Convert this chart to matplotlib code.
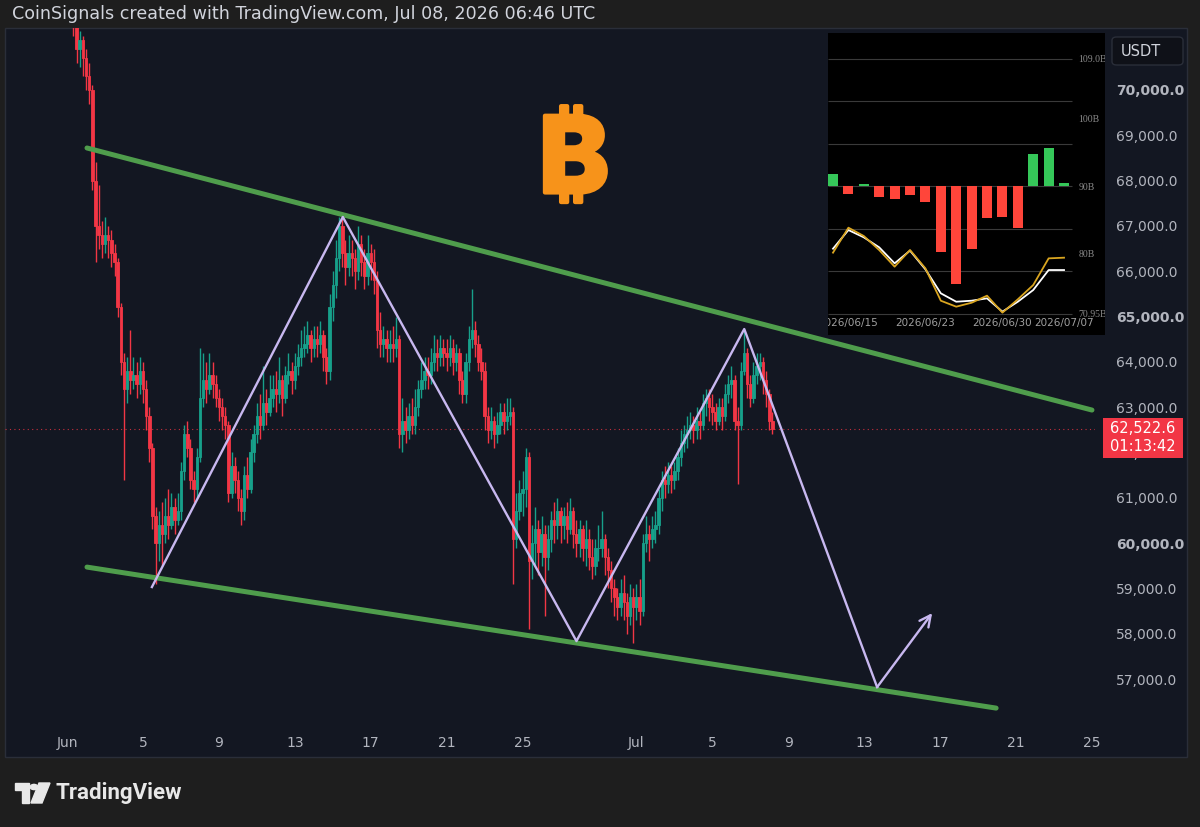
import matplotlib.pyplot as plt
import matplotlib.patheffects as pe
from matplotlib.patches import Rectangle, FancyBboxPatch, Circle, Polygon
import numpy as np

W, H = 1200, 827

# 4h BTC/USDT candles, Jun 1 08:00 -> Jul 8 04:00 (prices in hundreds of USDT)
first_open = 719
closes = [
    714, 709, 711, 707,                  # Jun 1
    703, 700, 680, 670, 668, 666,        # Jun 2
    668, 667, 664, 662, 652, 640,        # Jun 3
    634, 638, 636, 637, 635, 638,        # Jun 4
    634, 628, 621, 606, 600, 604,        # Jun 5
    602, 606, 604, 608, 605, 607,        # Jun 6
    616, 624, 621, 614, 612, 619,        # Jun 7
    632, 636, 634, 637, 635, 632,        # Jun 8
    630, 628, 626, 611, 617, 614,        # Jun 9
    610, 607, 615, 612, 620, 624,        # Jun 10
    628, 626, 631, 629, 632, 634,        # Jun 11
    633, 636, 632, 637, 638, 636,        # Jun 12
    639, 641, 643, 644, 646, 643,        # Jun 13
    645, 644, 646, 641, 638, 652,        # Jun 14
    657, 663, 670, 664, 661, 664,        # Jun 15
    663, 660, 666, 662, 659, 664,        # Jun 16
    662, 658, 647, 644, 645, 643,        # Jun 17
    644, 643, 645, 624, 627, 625,        # Jun 18
    628, 626, 630, 634, 636, 638,        # Jun 19
    637, 640, 642, 641, 643, 642,        # Jun 20
    641, 643, 640, 642, 636, 633,        # Jun 21
    640, 645, 647, 644, 640, 638,        # Jun 22
    628, 625, 627, 624, 626, 629,        # Jun 23
    627, 628, 629, 601, 607, 611,        # Jun 24
    612, 619, 596, 600, 603, 598,        # Jun 25
    602, 597, 601, 605, 604, 607,        # Jun 26
    604, 606, 603, 607, 602, 600,        # Jun 27
    603, 599, 601, 597, 595, 599,        # Jun 28
    599, 601, 597, 594, 590, 588,        # Jun 29
    586, 589, 587, 584, 588, 586,        # Jun 30
    588, 585, 600, 602, 601, 603,        # Jul 1
    604, 610, 614, 613, 615, 614,        # Jul 2
    616, 619, 622, 624, 625, 626,        # Jul 3
    625, 627, 626, 631, 632, 630,        # Jul 4
    629, 627, 630, 628, 633, 635,        # Jul 5
    636, 627, 626, 638, 642, 635,        # Jul 6
    632, 637, 639, 640, 636, 633,        # Jul 7
    627, 625.226,                        # Jul 8
]
highs = [
    722, 716, 713, 712,
    709, 706, 701, 684, 679, 671,
    672, 670, 669, 666, 663, 653,
    642, 641, 647, 641, 640, 641,
    640, 636, 630, 622, 608, 607,
    609, 610, 612, 611, 610, 611,
    618, 626, 627, 623, 616, 621,
    643, 642, 640, 642, 640, 637,
    634, 632, 630, 627, 620, 619,
    616, 612, 617, 619, 623, 626,
    631, 633, 639, 634, 637, 637,
    638, 641, 637, 639, 642, 640,
    642, 644, 647, 648, 649, 647,
    648, 648, 649, 647, 643, 655,
    660, 667, 672, 673, 667, 668,
    667, 665, 670, 668, 665, 668,
    666, 665, 660, 651, 648, 647,
    647, 648, 650, 646, 632, 630,
    631, 632, 634, 636, 640, 641,
    641, 643, 646, 645, 646, 645,
    645, 646, 645, 644, 643, 638,
    642, 648, 656, 649, 646, 643,
    640, 630, 630, 628, 629, 631,
    631, 632, 632, 630, 611, 614,
    616, 621, 620, 604, 608, 605,
    606, 604, 604, 607, 609, 610,
    608, 608, 609, 610, 608, 605,
    605, 604, 605, 603, 601, 601,
    604, 607, 602, 599, 596, 592,
    590, 592, 593, 589, 591, 590,
    591, 592, 602, 606, 604, 606,
    607, 612, 616, 617, 618, 617,
    618, 621, 625, 626, 628, 629,
    628, 630, 629, 633, 634, 634,
    633, 631, 632, 632, 635, 637,
    639, 637, 630, 640, 647, 643,
    637, 640, 642, 642, 641, 638,
    634, 629,
]
lows = [
    712, 706, 705, 703,
    700, 697, 678, 662, 665, 663,
    664, 663, 661, 659, 650, 637,
    614, 631, 633, 634, 632, 633,
    631, 625, 618, 603, 591, 596,
    595, 600, 601, 603, 602, 604,
    605, 614, 619, 612, 609, 610,
    618, 630, 631, 633, 632, 630,
    627, 625, 623, 609, 610, 611,
    607, 604, 605, 610, 611, 618,
    622, 623, 625, 626, 628, 630,
    629, 631, 628, 631, 635, 633,
    634, 637, 639, 641, 642, 640,
    641, 641, 642, 638, 635, 636,
    649, 654, 660, 661, 657, 659,
    659, 656, 658, 659, 656, 657,
    658, 655, 643, 641, 641, 640,
    640, 640, 641, 621, 620, 622,
    623, 624, 624, 628, 632, 634,
    634, 635, 638, 638, 639, 639,
    638, 639, 637, 638, 633, 631,
    631, 638, 643, 641, 638, 636,
    625, 622, 623, 621, 622, 624,
    624, 625, 626, 591, 599, 605,
    606, 608, 581, 592, 595, 593,
    595, 584, 594, 598, 600, 601,
    600, 601, 600, 602, 599, 597,
    597, 596, 595, 594, 592, 593,
    596, 597, 593, 590, 587, 584,
    583, 584, 583, 580, 582, 578,
    583, 582, 584, 598, 596, 599,
    600, 602, 607, 610, 611, 611,
    612, 614, 617, 620, 621, 623,
    622, 623, 623, 625, 628, 627,
    626, 625, 626, 625, 627, 631,
    632, 625, 613, 625, 637, 632,
    630, 631, 635, 636, 633, 630,
    625, 624,
]
last_price = 62522.6
countdown = "01:13:42"

day_ticks = [0, 4, 8, 12, 16, 20, 24, 30, 34, 38, 42, 46, 50, 54]
day_labels = ["Jun", "5", "9", "13", "17", "21", "25",
              "Jul", "5", "9", "13", "17", "21", "25"]
price_ticks = list(range(57000, 70001, 1000))
bold_prices = [60000, 65000, 70000]

# drawings: (days since Jun 1, price)
upper_days, upper_prices = [1.05, 54.0], [68720, 62936]
lower_days, lower_prices = [1.05, 48.95], [59470, 56358]
zigzag_days = [4.47, 14.53, 26.84, 35.68, 42.68]
zigzag_prices = [59030, 67197, 57837, 64724, 56821]
arrow_day, arrow_price = 45.58, 58455

# inset screenshot: daily flows (B) and two lines
flow_dates = ["2026/06/12", "2026/06/15", "2026/06/16", "2026/06/17", "2026/06/18",
              "2026/06/22", "2026/06/23", "2026/06/24", "2026/06/25", "2026/06/26",
              "2026/06/29", "2026/06/30", "2026/07/01", "2026/07/02", "2026/07/06",
              "2026/07/07"]
flows = [1.84, -1.24, 0.30, -1.64, -1.89, -1.34, -2.33, -9.83,
         -14.65, -9.34, -4.77, -4.62, -6.21, 4.72, 5.61, 0.45]
white_line = [80.66, 83.44, 82.35, 80.86, 78.48, 80.37, 77.58, 74.01,
              72.76, 72.91, 73.26, 71.28, 72.76, 74.50, 77.48, 77.48]
gold_line = [80.07, 83.79, 82.55, 80.46, 77.98, 80.46, 77.73, 72.91,
             72.02, 72.61, 73.66, 71.13, 73.11, 75.25, 79.22, 79.32]
inset_ticks = [70.95, 80, 90, 100, 109.0]
inset_labels = ["70.95B", "80B", "90B", "100B", "109.0B"]
inset_date_idx = [1, 6, 11, 15]

UP, DOWN = "#17a08a", "#f23645"
GREEN_LINE, PURPLE = "#4f9d4c", "#c8b8f0"
TXT = "#b2b5be"


def fx(x):
    return x / W


def fy(y):
    return 1 - y / H


fig = plt.figure(figsize=(12, 8.27), dpi=100, facecolor="#1e1e1e")
fig.patches.append(Rectangle((fx(5), fy(757)), fx(1182), 729 / H,
                             transform=fig.transFigure, facecolor="#131722",
                             edgecolor="#2a2e39", lw=1, zorder=-5))

fig.text(fx(12), fy(14), "CoinSignals created with TradingView.com, Jul 08, 2026 06:46 UTC",
         color="#d1d4dc", fontsize=12.6, va="center", ha="left")

ax = fig.add_axes([fx(5), fy(725), fx(1090), 697 / H])
ax.set_facecolor("none")
for s in ax.spines.values():
    s.set_visible(False)

c = np.array(closes) * 100
o = np.concatenate([[first_open * 100], c[:-1]])
hi = np.array(highs) * 100
lo = np.array(lows) * 100
t = 1 / 3 + np.arange(len(c)) / 6
col = np.where(c >= o, UP, DOWN)

ax.vlines(t, lo, hi, colors=col, lw=1.0, zorder=2)
ax.bar(t, c - o, bottom=o, width=0.13, color=col, edgecolor=col, lw=0.6, zorder=3)

ax.axhline(last_price, color=DOWN, lw=0.8, ls=(0, (1, 3)), alpha=0.8, zorder=1)

ax.plot(upper_days, upper_prices, color=GREEN_LINE, lw=3.6, solid_capstyle="round", zorder=4)
ax.plot(lower_days, lower_prices, color=GREEN_LINE, lw=3.6, solid_capstyle="round", zorder=4)
ax.plot(zigzag_days, zigzag_prices, color=PURPLE, lw=1.7, zorder=5)
ax.annotate("", xy=(arrow_day, arrow_price), xytext=(zigzag_days[-1], zigzag_prices[-1]),
            arrowprops=dict(arrowstyle="->", color=PURPLE, lw=1.7, mutation_scale=20,
                            shrinkA=0, shrinkB=0), zorder=5)

ax.set_xlim(-3.27, 54.16)
ax.set_ylim(55985, 71368)
ax.set_xticks(day_ticks)
ax.set_xticklabels(day_labels)
ax.yaxis.tick_right()
ax.set_yticks(price_ticks)
ax.set_yticklabels([f"{v:,.1f}" for v in price_ticks])
for lbl, v in zip(ax.get_yticklabels(), price_ticks):
    if v in bold_prices:
        lbl.set_fontweight("bold")
        lbl.set_color("#d1d4dc")
ax.tick_params(axis="y", length=0, pad=15, labelsize=10, labelcolor=TXT)
ax.tick_params(axis="x", length=0, pad=8, labelsize=10, labelcolor=TXT)

# last price label on the price scale
y_disp = ax.transData.transform((0, last_price))[1]
yf = fig.transFigure.inverted().transform((0, y_disp))[1]
fig.patches.append(Rectangle((fx(1103), yf - 29.5 / H), fx(80), 40 / H,
                             transform=fig.transFigure, facecolor=DOWN,
                             edgecolor="none", zorder=5))
fig.text(fx(1143), yf, f"{last_price:,.1f}", color="white", fontsize=10.5,
         ha="center", va="center", zorder=6)
fig.text(fx(1143), yf - 17.5 / H, countdown, color="white", fontsize=10.5,
         ha="center", va="center", zorder=6)

# currency box
fig.patches.append(FancyBboxPatch((fx(1112), fy(65)), fx(71), 28 / H,
                                  boxstyle="round,pad=0,rounding_size=0.004",
                                  transform=fig.transFigure, facecolor="#0f1118",
                                  edgecolor="#2a2e39", lw=1, zorder=5))
fig.text(fx(1121), fy(51), "USDT", color="#d1d4dc", fontsize=10.5, va="center", zorder=6)

# bitcoin logo
fig.text(fx(574), fy(165), "\u20bf", color="#f7931a", fontsize=76, fontweight="heavy",
         ha="center", va="center",
         family=["Inter", "Roboto", "Open Sans", "Lato", "Noto Sans", "DejaVu Sans"],
         path_effects=[pe.withStroke(linewidth=3, foreground="#f7931a")])

# inset screenshot
axi = fig.add_axes([fx(828), fy(335), fx(277), 302 / H], facecolor="black", zorder=10)
for s in axi.spines.values():
    s.set_visible(False)
idx = np.arange(len(flows))
axi.set_xlim(-0.325, 17.66)
axi.set_ylim(67.8, 112.8)
grid_levels = np.linspace(inset_ticks[0], inset_ticks[-1], 7)
axi.hlines(grid_levels, -0.325, 15.5, color="#3a3a3a", lw=0.8, zorder=1)
flows = np.array(flows)
axi.bar(idx, flows, bottom=90, width=0.65,
        color=np.where(flows >= 0, "#35c759", "#ff453a"), zorder=2)
axi.plot(idx, white_line, color="white", lw=1.3, zorder=3)
axi.plot(idx, gold_line, color="#d9a520", lw=1.3, zorder=4)
axi.set_xticks(inset_date_idx)
axi.set_xticklabels([flow_dates[i] for i in inset_date_idx])
axi.yaxis.tick_right()
axi.set_yticks(inset_ticks)
axi.set_yticklabels(inset_labels, family="Liberation Serif")
axi.tick_params(axis="x", length=0, pad=-12, labelsize=7.5, labelcolor="#a0a0a0")
axi.tick_params(axis="y", length=0, pad=-19, labelsize=7, labelcolor="#8a8a8a")
for lbl in axi.get_xticklabels() + axi.get_yticklabels():
    lbl.set_clip_on(True)
    lbl.set_clip_path(axi.patch)

# TradingView footer logo
logo_col = "#e8e8e8"
fig.patches.append(Polygon([(fx(15), fy(783)), (fx(29), fy(783)), (fx(29), fy(803)),
                            (fx(22), fy(803)), (fx(22), fy(790)), (fx(15), fy(790))],
                           closed=True, transform=fig.transFigure, color=logo_col))
fig.patches.append(Circle((fx(34), fy(787)), 3.8 / W, transform=fig.transFigure, color=logo_col))
fig.patches.append(Polygon([(fx(39), fy(783)), (fx(50), fy(783)), (fx(42), fy(803)),
                            (fx(31), fy(803))],
                           closed=True, transform=fig.transFigure, color=logo_col))
fig.text(fx(56), fy(793), "TradingView", color=logo_col, fontsize=16, fontweight="bold",
         family=["Roboto", "DejaVu Sans"], va="center", ha="left")

fig.savefig("out.png", dpi=100, facecolor=fig.get_facecolor())
